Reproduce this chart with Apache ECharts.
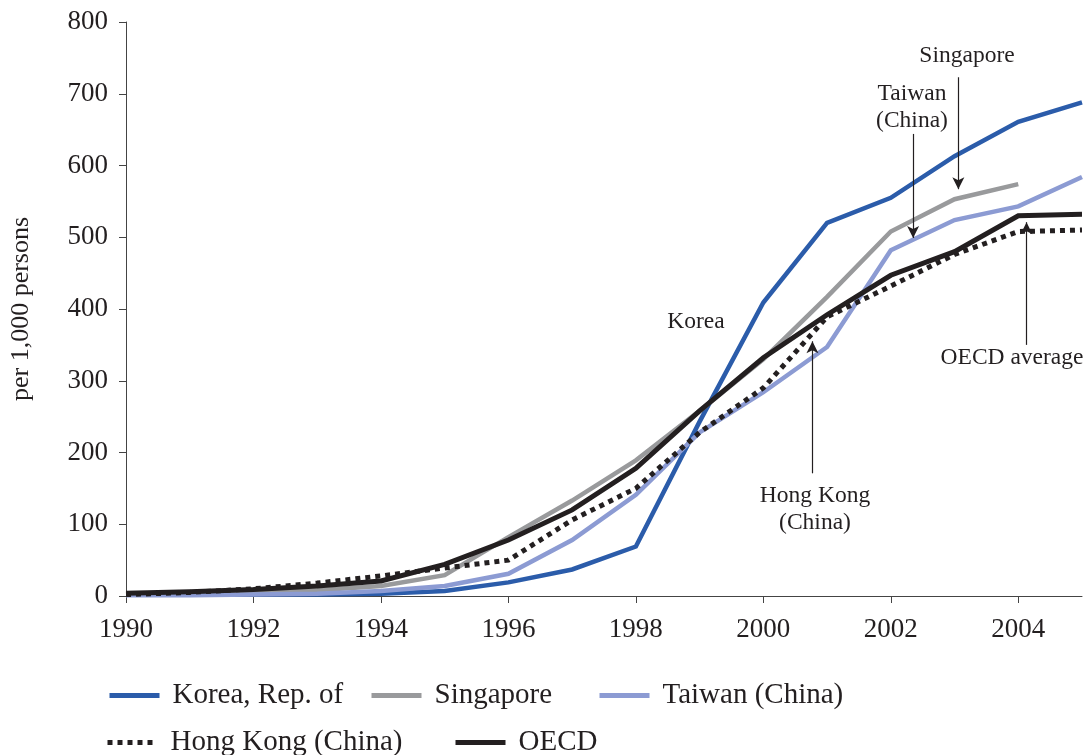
<!DOCTYPE html>
<html>
<head>
<meta charset="utf-8">
<script src="https://cdn.jsdelivr.net/npm/echarts@6/dist/echarts.min.js"></script>
<style>
html,body{margin:0;padding:0;background:#fff;}
#chart{width:1085px;height:755px;}
</style>
</head>
<body>
<div id="chart"></div>
<script>
const years = [1990,1991,1992,1993,1994,1995,1996,1997,1998,1999,2000,2001,2002,2003,2004,2005];
const korea = [2,2,2,2,3,7,19,37,69,243,409,520,555,613,661,688];
const singapore = [3,4,5,8,14,29,82,133,189,258,330,417,508,553,574,null];
const taiwan = [1,1,2,3,7,14,31,78,141,228,284,347,482,524,543,584];
const hongkong = [2,5,10,18,28,39,50,106,150,228,290,389,432,476,508,510];
const oecd = [4,6,9,14,21,44,78,120,178,258,332,392,447,480,530,532];
const xTicks = [1990,1992,1994,1996,1998,2000,2002,2004];
const seriesNames = ['Korea, Rep. of','Singapore','Taiwan (China)','Hong Kong (China)','OECD'];

const FONT = 'Liberation Serif';
const INK = '#231f20';

function pairs(vals){
  const out = [];
  years.forEach((y,i)=>{ if(vals[i]!==null && vals[i]!==undefined) out.push([y, vals[i]]); });
  return out;
}

const chart = echarts.init(document.getElementById('chart'), null, {renderer:'canvas'});

function lineSeries(name, vals, color, width, type){
  return {
    name: name,
    type: 'line',
    data: pairs(vals),
    symbol: 'none',
    showSymbol: false,
    animation: false,
    lineStyle: {color: color, width: width, type: type || 'solid', cap: 'butt', join: 'miter'},
    itemStyle: {color: color}
  };
}

function arrow(x, y0, y1){
  return [{coord:[x, y0]}, {coord:[x, y1]}];
}

const series = [
  lineSeries(seriesNames[0], korea, '#2b5caa', 4.5),
  lineSeries(seriesNames[1], singapore, '#999a9c', 4.5),
  lineSeries(seriesNames[2], taiwan, '#8c9bd3', 4.5),
  lineSeries(seriesNames[3], hongkong, INK, 5, [5,5]),
  lineSeries(seriesNames[4], oecd, INK, 5)
];
series[4].markLine = {
  silent: true,
  animation: false,
  symbol: ['none','arrow'],
  symbolSize: [9, 12],
  label: {show: false},
  emphasis: {disabled: true},
  lineStyle: {color: INK, width: 1.2, type: 'solid'},
  data: [
    arrow(2003.06, 723, 567),
    arrow(2002.35, 644, 499),
    arrow(2004.13, 350, 521),
    arrow(2000.77, 171, 355)
  ]
};

function legendAt(name, left, top){
  return {
    data: [name],
    left: left,
    top: top,
    padding: 0,
    itemWidth: 50,
    itemHeight: 14,
    selectedMode: false,
    itemStyle: {opacity: 0},
    lineStyle: {width: 5, cap: 'butt'},
    textStyle: {fontFamily: FONT, fontSize: 29, color: INK, padding: [0,0,0,8]}
  };
}

function annot(text, x, y){
  return {
    type: 'text',
    x: x, y: y,
    style: {text: text, fontFamily: FONT, fontSize: 23.5, fill: INK, align: 'center', verticalAlign: 'middle', lineHeight: 27},
    silent: true
  };
}

const option = {
  backgroundColor: '#ffffff',
  animation: false,
  grid: {left: 126, right: 3, top: 22, bottom: 159, containLabel: false},
  xAxis: {
    type: 'value',
    min: 1990, max: 2005,
    axisLine: {show: true, lineStyle: {color: '#444', width: 1}},
    axisTick: {show: true, length: 7, customValues: xTicks, lineStyle: {color: '#444', width: 1}},
    axisLabel: {customValues: xTicks, margin: 20, fontFamily: FONT, fontSize: 27, color: INK, formatter: v => String(v)},
    splitLine: {show: false}
  },
  yAxis: {
    type: 'value',
    min: 0, max: 800, interval: 100,
    name: 'per 1,000 persons',
    nameLocation: 'middle',
    nameRotate: 90,
    nameGap: 92,
    nameTextStyle: {fontFamily: FONT, fontSize: 26, color: INK},
    axisLine: {show: true, lineStyle: {color: '#444', width: 1}},
    axisTick: {show: true, length: 7, lineStyle: {color: '#444', width: 1}},
    axisLabel: {margin: 18, fontFamily: FONT, fontSize: 27, color: INK},
    splitLine: {show: false}
  },
  legend: [
    legendAt(seriesNames[0], 107, 681),
    legendAt(seriesNames[1], 369, 681),
    legendAt(seriesNames[2], 597, 681),
    legendAt(seriesNames[3], 105, 728),
    legendAt(seriesNames[4], 453, 728)
  ],
  series: series,
  graphic: [
    annot('Singapore', 967, 56),
    annot('Taiwan\n(China)', 912, 107),
    annot('Korea', 696, 322),
    annot('Hong Kong\n(China)', 815, 509),
    annot('OECD average', 1012, 358)
  ]
};
chart.setOption(option);
</script>
</body>
</html>
